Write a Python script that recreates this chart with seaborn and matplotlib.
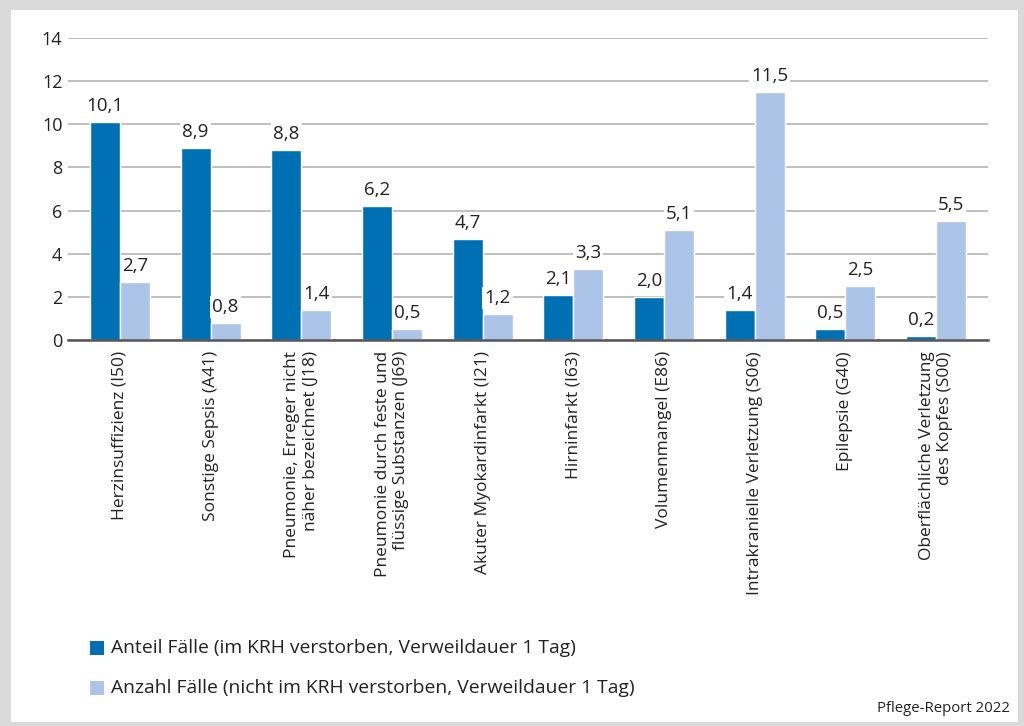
import pandas as pd
import seaborn as sns
import matplotlib.pyplot as plt
from matplotlib.patches import Rectangle

# data
categories = [
    "Herzinsuffizienz (I50)",
    "Sonstige Sepsis (A41)",
    "Pneumonie, Erreger nicht\nnäher bezeichnet (J18)",
    "Pneumonie durch feste und\nflüssige Substanzen (J69)",
    "Akuter Myokardinfarkt (I21)",
    "Hirninfarkt (I63)",
    "Volumenmangel (E86)",
    "Intrakranielle Verletzung (S06)",
    "Epilepsie (G40)",
    "Oberflächliche Verletzung\ndes Kopfes (S00)",
]
anteil = [10.1, 8.9, 8.8, 6.2, 4.7, 2.1, 2.0, 1.4, 0.5, 0.2]
anzahl = [2.7, 0.8, 1.4, 0.5, 1.2, 3.3, 5.1, 11.5, 2.5, 5.5]
series_names = [
    "Anteil Fälle (im KRH verstorben, Verweildauer 1 Tag)",
    "Anzahl Fälle (nicht im KRH verstorben, Verweildauer 1 Tag)",
]
yticks = [0, 2, 4, 6, 8, 10, 12, 14]

df = pd.DataFrame({
    "Kategorie": categories * 2,
    "Wert": anteil + anzahl,
    "Serie": [series_names[0]] * len(categories) + [series_names[1]] * len(categories),
})

dark = "#0070b4"
light = "#abc4e8"

sns.set_style("white")
plt.rcParams["font.family"] = ["Open Sans", "DejaVu Sans"]

fig = plt.figure(figsize=(10.24, 7.26), dpi=100)
fig.patch.set_facecolor("#dadada")
fig.patches.append(Rectangle((11 / 1024, 4 / 726), 1007 / 1024, 712 / 726,
                             transform=fig.transFigure, facecolor="white",
                             edgecolor="none", zorder=-10))

ax = fig.add_axes([68 / 1024, 1 - 340 / 726, 920 / 1024, 302 / 726])
ax.set_facecolor("none")
sns.barplot(data=df, x="Kategorie", y="Wert", hue="Serie", palette=[dark, light],
            width=0.66, saturation=1, ax=ax, legend=False, zorder=3)

ax.set_ylim(0, 14)
ax.set_xlim(-0.573, 9.573)
ax.set_yticks(yticks)
ax.set_yticklabels([str(t) for t in yticks], fontsize=13, color="#222222")
ax.yaxis.grid(True, color="#b5b5b5", linewidth=1.2)
ax.set_axisbelow(True)
for s in ["top", "right", "left"]:
    ax.spines[s].set_visible(False)
ax.spines["bottom"].set_color("#555555")
ax.spines["bottom"].set_linewidth(1.8)
ax.spines["bottom"].set_zorder(4)
ax.tick_params(axis="y", length=0, pad=4)
ax.tick_params(axis="x", length=0, pad=8)
ax.set_xlabel("")
ax.set_ylabel("")
ax.set_xticks(range(len(categories)))
ax.set_xticklabels(categories, rotation=90, fontsize=12.5, color="#222222",
                   va="top", ha="center", multialignment="right")

for cont in ax.containers:
    labels = [f"{b.get_height():.1f}".replace(".", ",") for b in cont]
    ax.bar_label(cont, labels=labels, padding=5, fontsize=13.5, color="#222222",
                 bbox=dict(facecolor="white", edgecolor="none", pad=1.5), zorder=5)

# legend
for i, (name, col) in enumerate(zip(series_names, [dark, light])):
    y = 1 - (648 + i * 40) / 726
    fig.patches.append(Rectangle((90 / 1024, y - 7 / 726), 14 / 1024, 14 / 726,
                                 transform=fig.transFigure, facecolor=col,
                                 edgecolor="none", zorder=2))
    fig.text(111 / 1024, y, name, fontsize=13.9, color="#222222", va="center", ha="left")

fig.text(1010 / 1024, 1 - 708 / 726, "Pflege-Report 2022", fontsize=10.7, color="#222222",
         ha="right", va="center")

fig.savefig("out.png", dpi=100, facecolor=fig.get_facecolor())
